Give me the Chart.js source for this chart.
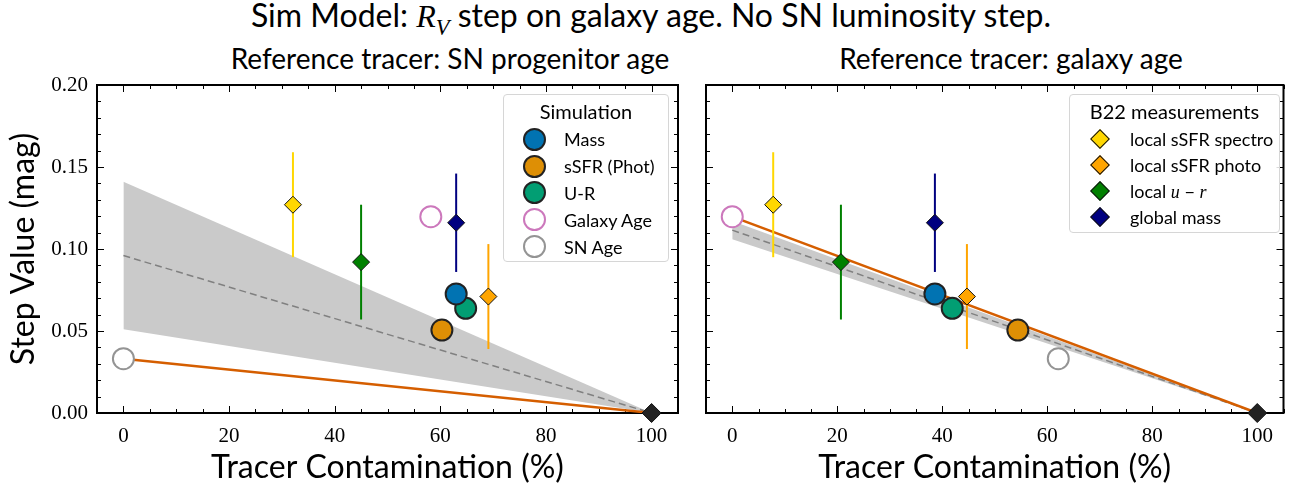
<!DOCTYPE html>
<html>
<head>
<meta charset="utf-8">
<script src="https://cdn.jsdelivr.net/npm/chart.js@4.4.0/dist/chart.umd.min.js"></script>
<style>
  body { margin: 0; width: 1296px; height: 491px; position: relative; background: #fff; font-family: Lato, sans-serif; overflow: hidden; }
  canvas { position: absolute; top: 0; }
  .ttl { position: absolute; white-space: nowrap; transform: translate(-50%, -50%); color: #000; }
  .math { font-family: "Liberation Serif", serif; font-style: italic; }
  .legend { position: absolute; border: 1px solid #d6d6d6; border-radius: 4px; background: rgba(255,255,255,0.85); box-sizing: border-box; font-size: 18px; color: #000; }
  .legend .lt { text-align: center; font-size: 20px; height: 30px; line-height: 30px; margin-top: 1px; }
  .legend .item { display: flex; align-items: center; }
  .legend .mkbox { width: 60px; display: flex; justify-content: center; align-items: center; }
  .dot { display: inline-block; width: 23px; height: 23px; border-radius: 50%; border: 2px solid #222; box-sizing: border-box; }
  .dia { display: inline-block; width: 12px; height: 12px; border: 1px solid #111; transform: rotate(45deg); }
</style>
</head>
<body>
<div class="ttl" style="left:651px; top:18px; font-size:32px;">Sim Model: <span class="math">R<sub style="font-size:0.7em">V</sub></span> step on galaxy age. No SN luminosity step.</div>
<div class="ttl" style="left:450px; top:58px; font-size:28px;">Reference tracer: SN progenitor age</div>
<div class="ttl" style="left:1011px; top:58px; font-size:28px;">Reference tracer: galaxy age</div>

<canvas id="leftChart" width="692" height="491" style="left:0"></canvas>
<canvas id="rightChart" width="604" height="491" style="left:692px"></canvas>
<div class="legend" id="legLeft" style="left:503px; top:94px; width:166px; height:168px;"></div>
<div class="legend" id="legRight" style="left:1069px; top:94px; width:211px; height:139px;"></div>

<script>
// ---- data ----
const xTicks = [0, 20, 40, 60, 80, 100];
const yTicks = [0, 0.05, 0.10, 0.15, 0.20];

// B22 measurements (diamonds with error bars)
const measLabels = ['local sSFR spectro', 'local sSFR photo', 'local u − r', 'global mass'];
const measColors = ['#ffd700', '#ffa500', '#008000', '#000080'];
const measY = [0.127, 0.071, 0.092, 0.116];
const measErr = [0.032, 0.032, 0.035, 0.030];
const measXLeft = [32.1, 69.1, 45.0, 63.0];
const measXRight = [7.8, 44.7, 20.7, 38.6];

// simulation points (circles)
const simLabels = ['Mass', 'sSFR (Phot)', 'U-R', 'Galaxy Age', 'SN Age'];
const simFill = ['#0173b2', '#de8f05', '#029e73', '#ffffff', '#ffffff'];
const simEdge = ['#222222', '#222222', '#222222', '#cc78bc', '#949494'];
const simY = [0.0726, 0.0506, 0.0638, 0.1197, 0.0331];
const simXLeft = [63.0, 60.3, 64.8, 58.2, 0];
const simXRight = [38.6, 54.4, 41.9, 0, 62.1];

// lines from x=0 to x=100
const lineX = [0, 100];
const fitLeft = [0.0331, 0];
const meanLeft = [0.096, 0];
const bandTopLeft = [0.141, 0];
const bandBotLeft = [0.051, 0];
const fitRight = [0.1197, 0];
const meanRight = [0.1115, 0];
const bandTopRight = [0.117, 0];
const bandBotRight = [0.106, 0];

const anchorX = [100];
const anchorY = [0];

const pts = (xs, ys) => xs.map((x, i) => ({ x: x, y: ys[i] }));

// inward ticks on all sides + frame
const frameTicks = {
  id: 'frameTicks',
  beforeDatasetsDraw(chart) {
    const { ctx, chartArea: a, scales: { x, y } } = chart;
    ctx.save();
    ctx.strokeStyle = '#000';
    ctx.lineWidth = 1;
    ctx.beginPath();
    for (let v = -5; v <= 105; v += 5) {
      const len = v % 20 === 0 ? 7 : 4;
      const px = Math.round(x.getPixelForValue(v)) + 0.5;
      ctx.moveTo(px, a.bottom); ctx.lineTo(px, a.bottom - len);
      ctx.moveTo(px, a.top); ctx.lineTo(px, a.top + len);
    }
    for (let k = 0; k <= 20; k++) {
      const len = k % 5 === 0 ? 7 : 4;
      const py = Math.round(y.getPixelForValue(k / 100)) + 0.5;
      ctx.moveTo(a.left, py); ctx.lineTo(a.left + len, py);
      ctx.moveTo(a.right, py); ctx.lineTo(a.right - len, py);
    }
    ctx.stroke();
    ctx.lineWidth = 2;
    ctx.strokeRect(a.left, a.top, a.right - a.left, a.bottom - a.top);
    ctx.restore();
  }
};

// vertical error bars drawn just before their own marker
const errorBars = {
  id: 'errorBars',
  beforeDatasetDraw(chart, args) {
    const ds = chart.data.datasets[args.index];
    if (!ds.errors) return;
    const { ctx, scales: { x, y } } = chart;
    ctx.save();
    ctx.strokeStyle = ds.backgroundColor;
    ctx.lineWidth = 2;
    ds.data.forEach((p, i) => {
      const px = x.getPixelForValue(p.x);
      ctx.beginPath();
      ctx.moveTo(px, y.getPixelForValue(p.y - ds.errors[i]));
      ctx.lineTo(px, y.getPixelForValue(p.y + ds.errors[i]));
      ctx.stroke();
    });
    ctx.restore();
  }
};

function makeDatasets(simX, measX, bandTop, bandBot, mean, fit) {
  const ds = [];
  ds.push({ type: 'line', label: 'band top', data: pts(lineX, bandTop), borderWidth: 0, pointRadius: 0, fill: false, order: 6 });
  ds.push({ type: 'line', label: 'band', data: pts(lineX, bandBot), borderWidth: 0, pointRadius: 0, fill: '-1', backgroundColor: '#cacaca', order: 6 });
  ds.push({ type: 'line', label: 'mean', data: pts(lineX, mean), borderColor: '#808080', borderWidth: 1.5, borderDash: [7, 4], pointRadius: 0, fill: false, order: 5 });
  ds.push({ type: 'line', label: 'fit', data: pts(lineX, fit), borderColor: '#d55e00', borderWidth: 2.5, pointRadius: 0, fill: false, order: 4 });
  simLabels.forEach((lab, i) => {
    ds.push({ label: lab, sim: true, data: [{ x: simX[i], y: simY[i] }], pointStyle: 'circle', pointRadius: 10.5,
      backgroundColor: simFill[i], borderColor: simEdge[i], borderWidth: 2, clip: false, order: 3 });
  });
  measLabels.forEach((lab, i) => {
    ds.push({ label: lab, meas: true, data: [{ x: measX[i], y: measY[i] }], errors: [measErr[i]], pointStyle: 'rectRot', pointRadius: 8.5,
      backgroundColor: measColors[i], borderColor: '#111', borderWidth: 1, clip: false, order: 2 });
  });
  ds.push({ label: 'anchor', data: pts(anchorX, anchorY), pointStyle: 'rectRot', pointRadius: 9.5,
    backgroundColor: '#222', borderColor: '#111', borderWidth: 1, clip: false, order: 1 });
  return ds;
}

function makeChart(id, datasets, yWidth, padRight, showY) {
  return new Chart(document.getElementById(id), {
    type: 'scatter',
    data: { datasets: datasets },
    plugins: [frameTicks, errorBars],
    options: {
      responsive: false,
      animation: false,
      events: [],
      layout: { padding: { top: 85, right: padRight, left: 0, bottom: 0 } },
      plugins: { legend: { display: false }, tooltip: { enabled: false } },
      scales: {
        x: {
          type: 'linear', min: -5, max: 105,
          afterBuildTicks: (s) => { s.ticks = xTicks.map(v => ({ value: v })); },
          afterFit: (s) => { s.height = 78; },
          grid: { display: false, drawTicks: false },
          border: { display: false },
          ticks: { color: '#000', padding: 11, font: { family: 'Liberation Serif', size: 21 }, maxRotation: 0,
            callback: (v) => String(v) },
          title: { display: true, text: 'Tracer Contamination (%)', color: '#000',
            font: { family: 'Lato', size: 32 }, padding: { top: 0, bottom: 4 } }
        },
        y: {
          type: 'linear', min: 0, max: 0.2,
          afterBuildTicks: (s) => { s.ticks = yTicks.map(v => ({ value: v })); },
          afterFit: (s) => { s.width = yWidth; },
          grid: { display: false, drawTicks: false },
          border: { display: false },
          ticks: { display: showY, color: '#000', padding: 9, font: { family: 'Liberation Serif', size: 21 },
            callback: (v) => Number(v).toFixed(2) },
          title: { display: showY, text: 'Step Value (mag)', color: '#000',
            font: { family: 'Lato', size: 32 }, padding: { top: 4, bottom: 0 } }
        }
      }
    }
  });
}

function fmtLabel(txt) {
  return txt.replace('u − r', '<span class="math">u</span> − <span class="math">r</span>');
}

function buildLegend(chart, el, title, key, rowH) {
  let html = '<div class="lt">' + title + '</div>';
  chart.data.datasets.forEach(ds => {
    if (!ds[key]) return;
    const mk = ds.pointStyle === 'rectRot'
      ? '<span class="dia" style="background:' + ds.backgroundColor + '"></span>'
      : '<span class="dot" style="background:' + ds.backgroundColor + ';border-color:' + ds.borderColor + '"></span>';
    html += '<div class="item" style="height:' + rowH + 'px"><span class="mkbox">' + mk + '</span><span>' + fmtLabel(ds.label) + '</span></div>';
  });
  el.innerHTML = html;
}

const leftChart = makeChart('leftChart',
  makeDatasets(simXLeft, measXLeft, bandTopLeft, bandBotLeft, meanLeft, fitLeft), 97, 14, true);
const rightChart = makeChart('rightChart',
  makeDatasets(simXRight, measXRight, bandTopRight, bandBotRight, meanRight, fitRight), 14, 8, false);

buildLegend(leftChart, document.getElementById('legLeft'), 'Simulation', 'sim', 26.8);
buildLegend(rightChart, document.getElementById('legRight'), 'B22 measurements', 'meas', 26);
</script>
</body>
</html>
